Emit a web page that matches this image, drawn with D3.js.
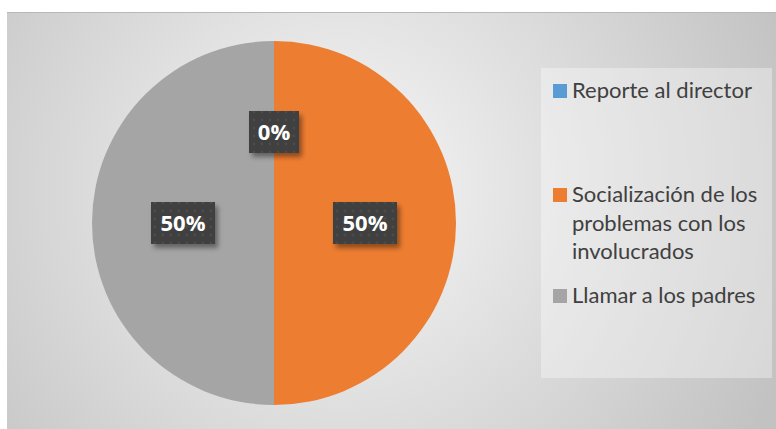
<!DOCTYPE html>
<html>
<head>
<meta charset="utf-8">
<script src="https://cdn.jsdelivr.net/npm/d3@7"></script>
<style>
  body { margin: 0; background: #fff; }
  svg { display: block; }
</style>
</head>
<body>
<div id="chart"></div>
<script>
// data
const categories = ["Reporte al director", "Socialización de los problemas con los involucrados", "Llamar a los padres"];
const values = [0, 50, 50];
const colors = ["#5B9BD5", "#ED7D31", "#A5A5A5"];
const legendLines = [["Reporte al director"], ["Socialización de los", "problemas con los", "involucrados"], ["Llamar a los padres"]];

const W = 776, H = 429;
const svg = d3.select("#chart").append("svg").attr("width", W).attr("height", H);
const defs = svg.append("defs");

// background gradient
const grad = defs.append("radialGradient").attr("id", "bg")
    .attr("gradientUnits", "userSpaceOnUse")
    .attr("cx", 340).attr("cy", 190).attr("r", 480);
grad.append("stop").attr("offset", "0%").attr("stop-color", "#f7f7f7");
grad.append("stop").attr("offset", "100%").attr("stop-color", "#c2c2c2");

// dotted label texture
const pat = defs.append("pattern").attr("id", "dots")
    .attr("width", 8).attr("height", 8).attr("patternUnits", "userSpaceOnUse");
pat.append("rect").attr("width", 8).attr("height", 8).attr("fill", "#404040");
pat.append("circle").attr("cx", 4).attr("cy", 4).attr("r", 1.4).attr("fill", "#4c4c4c");

const shadow = defs.append("filter").attr("id", "shadow")
    .attr("x", "-30%").attr("y", "-30%").attr("width", "170%").attr("height", "170%");
shadow.append("feDropShadow").attr("dx", 3).attr("dy", 4).attr("stdDeviation", 2.5)
    .attr("flood-color", "#000").attr("flood-opacity", 0.4);

svg.append("rect").attr("x", 7).attr("y", 12).attr("width", W - 7).attr("height", H - 12)
    .attr("fill", "url(#bg)");
svg.append("line").attr("x1", 7).attr("x2", W).attr("y1", 12.5).attr("y2", 12.5)
    .attr("stroke", "#b8b8b8").attr("stroke-width", 1);

// pie
const cx = 274, cy = 223, r = 182;
const data = categories.map((c, i) => ({ name: c, value: values[i], color: colors[i] }));
const pie = d3.pie().sort(null).value(d => d.value);
const arc = d3.arc().innerRadius(0).outerRadius(r);
const arcs = pie(data);

const g = svg.append("g").attr("transform", `translate(${cx},${cy})`);
g.selectAll("path.slice").data(arcs).enter().append("path")
    .attr("class", "slice")
    .attr("d", arc)
    .attr("fill", d => d.data.color);

// labels
const lbl = g.selectAll("g.lbl").data(arcs).enter().append("g")
    .attr("class", "lbl")
    .attr("transform", d => `translate(${arc.centroid(d)})`);
lbl.append("rect")
    .attr("x", d => d.data.value >= 10 ? -32 : -25)
    .attr("y", -21)
    .attr("width", d => d.data.value >= 10 ? 64 : 50)
    .attr("height", 42)
    .attr("fill", "url(#dots)")
    .attr("filter", "url(#shadow)");
lbl.append("text")
    .attr("text-anchor", "middle")
    .attr("dy", "0.36em")
    .attr("fill", "#fff")
    .style("font-family", "'Open Sans', sans-serif")
    .style("font-weight", "bold")
    .style("font-size", "22px")
    .text(d => d.data.value + "%");

// legend
svg.append("rect").attr("x", 541).attr("y", 68).attr("width", 231).attr("height", 310)
    .attr("fill", "#ffffff").attr("fill-opacity", 0.35);

const legendY = [98, 202, 303];
const lg = svg.append("g");
categories.forEach((c, i) => {
    lg.append("rect").attr("x", 553).attr("y", legendY[i] - 14).attr("width", 14).attr("height", 14)
        .attr("fill", colors[i]);
    const t = lg.append("text")
        .attr("x", 572).attr("y", legendY[i])
        .attr("fill", "#404040")
        .style("font-family", "Lato, sans-serif")
        .style("font-size", "22px");
    legendLines[i].forEach((ln, j) => {
        t.append("tspan").attr("x", 572).attr("dy", j === 0 ? 0 : 28.5).text(ln);
    });
});
</script>
</body>
</html>
